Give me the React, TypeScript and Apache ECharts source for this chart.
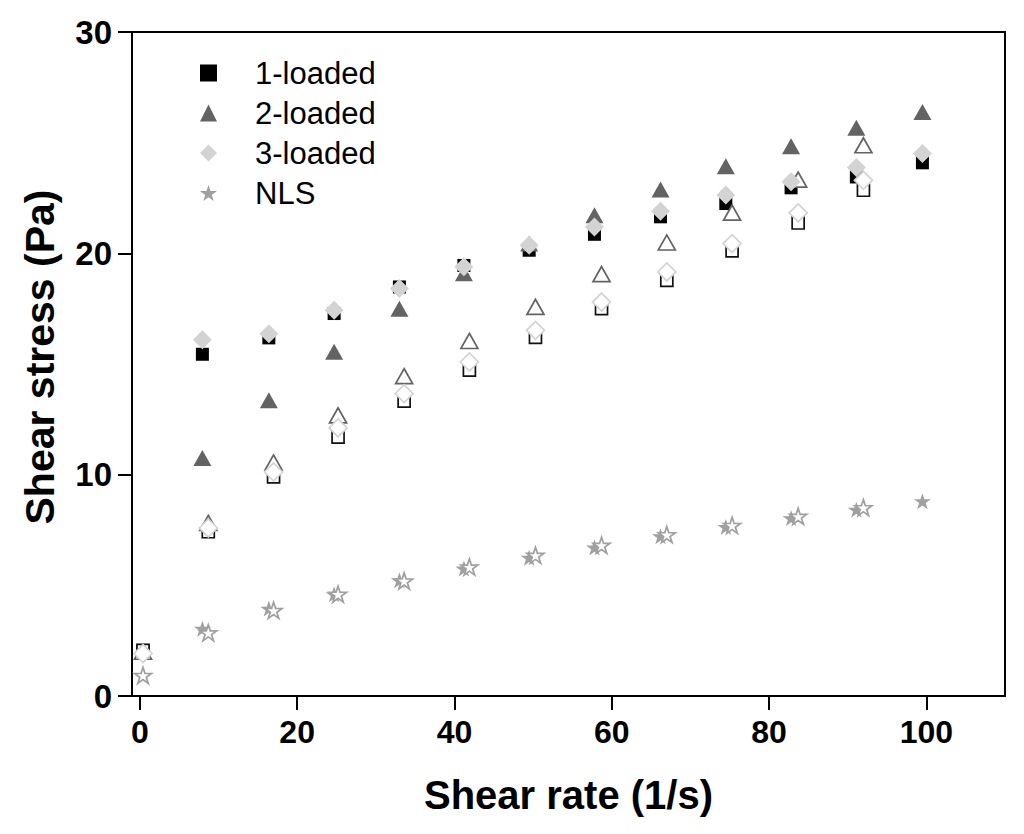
import React, { useEffect, useRef } from "react";
import * as echarts from "echarts";

// x positions (shear rate, 1/s)
const xLoaded = [0.4, 7.95, 16.4, 24.7, 33.0, 41.2, 49.5, 57.8, 66.2, 74.5, 82.8, 91.1, 99.5];
const xUnloaded = [0.4, 8.7, 17.0, 25.2, 33.6, 41.9, 50.3, 58.7, 67.0, 75.3, 83.7, 92.0];

// filled symbols (legend series)
const loaded1 = [2.06, 15.44, 16.18, 17.28, 18.48, 19.45, 20.14, 20.86, 21.65, 22.25, 22.96, 23.45, 24.09];
const loaded2 = [2.0, 10.75, 13.36, 15.55, 17.5, 19.1, 20.44, 21.72, 22.88, 23.94, 24.84, 25.67, 26.39];
const loaded3 = [1.92, 16.1, 16.37, 17.43, 18.41, 19.39, 20.37, 21.19, 21.9, 22.63, 23.23, 23.88, 24.51];
const nlsLoaded = [0.93, 3.04, 3.95, 4.6, 5.23, 5.76, 6.25, 6.71, 7.22, 7.64, 8.04, 8.42, 8.8];

// open symbols
const open1 = [2.06, 7.42, 9.9, 11.7, 13.32, 14.72, 16.2, 17.5, 18.78, 20.11, 21.37, 22.85];
const open2 = [2.0, 7.82, 10.55, 12.68, 14.45, 16.04, 17.58, 19.06, 20.49, 21.84, 23.33, 24.88];
const open3 = [1.92, 7.59, 10.12, 12.11, 13.66, 15.09, 16.52, 17.8, 19.16, 20.44, 21.83, 23.3];
const openNls = [0.93, 2.86, 3.87, 4.6, 5.2, 5.83, 6.36, 6.81, 7.29, 7.71, 8.12, 8.51];

const legendNames = ["1-loaded", "2-loaded", "3-loaded", "NLS"];
const xTicks = [0, 20, 40, 60, 80, 100];

const FONT = '"Liberation Sans", Arial, Helvetica, sans-serif';
const STAR =
  "path://M50 0L61.23 34.55L97.55 34.55L68.17 55.9L79.39 90.45L50 69.1L20.61 90.45L31.83 55.9L2.45 34.55L38.77 34.55Z";

const zip = (xs: number[], ys: number[]) => ys.map((y, i) => [xs[i], y]);

export default function App() {
  const ref = useRef<HTMLDivElement>(null);
  useEffect(() => {
    if (!ref.current) return;
    const chart = echarts.init(ref.current, null, { renderer: "svg" });
    const base = { type: "scatter", silent: true, emphasis: { disabled: true } };
    chart.setOption({
      animation: false,
      backgroundColor: "#fff",
      grid: {
        left: 132,
        right: 19,
        top: 32,
        bottom: 138,
        show: true,
        borderColor: "#000",
        borderWidth: 2,
        backgroundColor: "transparent",
      },
      legend: {
        data: legendNames,
        left: 200,
        top: 57,
        orient: "vertical",
        itemWidth: 17,
        itemHeight: 17,
        itemGap: 8,
        padding: 0,
        selectedMode: false,
        textStyle: {
          fontSize: 31,
          color: "#000",
          fontFamily: FONT,
          lineHeight: 32,
          padding: [0, 0, 0, 33],
        },
      },
      xAxis: {
        type: "value",
        min: -1,
        max: 110,
        name: "Shear rate (1/s)",
        nameLocation: "middle",
        nameGap: 79,
        nameTextStyle: { fontSize: 40, fontWeight: "bold", color: "#000", fontFamily: FONT },
        splitLine: { show: false },
        axisLine: { show: true, onZero: false, lineStyle: { color: "#000", width: 2 } },
        axisTick: {
          show: true,
          length: 14,
          customValues: xTicks,
          lineStyle: { color: "#000", width: 2 },
        },
        axisLabel: {
          customValues: xTicks,
          fontSize: 32,
          fontWeight: "bold",
          color: "#000",
          fontFamily: FONT,
          margin: 20,
        },
      },
      yAxis: {
        type: "value",
        min: 0,
        max: 30,
        interval: 10,
        name: "Shear stress (Pa)",
        nameLocation: "middle",
        nameGap: 72,
        nameTextStyle: {
          fontSize: 41,
          fontWeight: "bold",
          color: "#000",
          fontFamily: FONT,
          padding: [0, 0, 0, 14],
        },
        splitLine: { show: false },
        axisLine: { show: true, onZero: false, lineStyle: { color: "#000", width: 2 } },
        axisTick: { show: true, length: 14, lineStyle: { color: "#000", width: 2 } },
        axisLabel: {
          fontSize: 33,
          fontWeight: "bold",
          color: "#000",
          fontFamily: FONT,
          margin: 20,
        },
      },
      series: [
        {
          ...base,
          name: "1-loaded",
          data: zip(xLoaded, loaded1),
          symbol: "rect",
          symbolSize: 13,
          itemStyle: { color: "#000", opacity: 1 },
        },
        {
          ...base,
          name: "1-open",
          data: zip(xUnloaded, open1),
          symbol: "rect",
          symbolSize: 12,
          itemStyle: { color: "#fff", borderColor: "#111", borderWidth: 1.7, opacity: 1 },
        },
        {
          ...base,
          name: "2-loaded",
          data: zip(xLoaded, loaded2),
          symbol: "triangle",
          symbolSize: [18, 16],
          itemStyle: { color: "#636363", opacity: 1 },
        },
        {
          ...base,
          name: "2-open",
          data: zip(xUnloaded, open2),
          symbol: "triangle",
          symbolSize: [17, 15],
          itemStyle: { color: "#fff", borderColor: "#636363", borderWidth: 1.7, opacity: 1 },
        },
        {
          ...base,
          name: "3-loaded",
          data: zip(xLoaded, loaded3),
          symbol: "diamond",
          symbolSize: 19,
          itemStyle: { color: "#d3d3d3", opacity: 1 },
        },
        {
          ...base,
          name: "3-open",
          data: zip(xUnloaded, open3),
          symbol: "diamond",
          symbolSize: 18,
          itemStyle: { color: "#fff", borderColor: "#d3d3d3", borderWidth: 1.7, opacity: 1 },
        },
        {
          ...base,
          name: "NLS",
          data: zip(xLoaded, nlsLoaded),
          symbol: STAR,
          symbolSize: [17, 16],
          itemStyle: { color: "#a0a0a0", opacity: 1 },
        },
        {
          ...base,
          name: "NLS-open",
          data: zip(xUnloaded, openNls),
          symbol: STAR,
          symbolSize: [17, 16],
          itemStyle: { color: "#fff", borderColor: "#a0a0a0", borderWidth: 1.7, opacity: 1 },
        },
      ],
    });
    return () => chart.dispose();
  }, []);
  return (
    <div
      ref={ref}
      style={{ position: "fixed", left: 0, top: 0, width: 1024, height: 834, background: "#fff" }}
    />
  );
}
